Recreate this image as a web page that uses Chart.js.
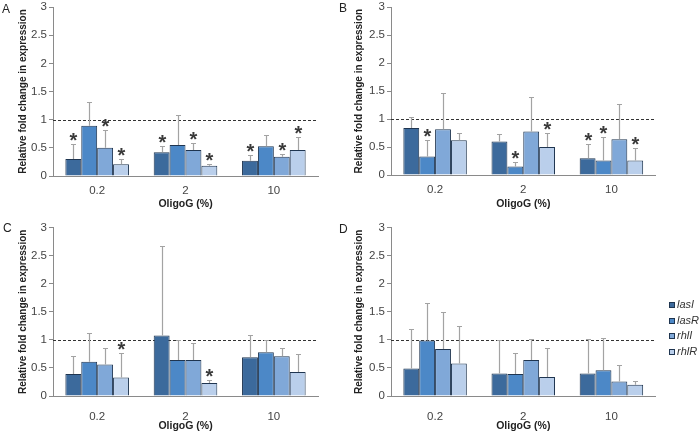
<!DOCTYPE html>
<html><head><meta charset="utf-8">
<script src="https://cdn.jsdelivr.net/npm/chart.js@4.4.0/dist/chart.umd.min.js"></script>
<style>
html,body{margin:0;padding:0;background:#fff;}
#wrap{position:relative;width:700px;height:431px;overflow:hidden;font-family:"Liberation Sans",Arial,sans-serif;}
.pane{position:absolute;}
.lbl{position:absolute;font-size:12px;line-height:12px;color:#222;}
#legend{position:absolute;left:669px;top:297px;}
.li{position:relative;height:15.6px;line-height:15.6px;font-style:italic;font-size:11px;color:#333;padding-left:8px;white-space:nowrap;}
.sw{position:absolute;left:0;top:5px;width:4px;height:4px;border:1px solid #1f3550;}
</style>
</head><body>
<div id="wrap">
  <canvas id="cA" class="pane" width="340" height="215" style="left:0;top:0"></canvas>
  <canvas id="cB" class="pane" width="360" height="215" style="left:340px;top:0"></canvas>
  <canvas id="cC" class="pane" width="340" height="216" style="left:0;top:215px"></canvas>
  <canvas id="cD" class="pane" width="360" height="216" style="left:340px;top:215px"></canvas>
  <div class="lbl" style="left:2px;top:2.5px">A</div>
  <div class="lbl" style="left:339px;top:1.5px">B</div>
  <div class="lbl" style="left:3px;top:221.5px">C</div>
  <div class="lbl" style="left:339px;top:222.5px">D</div>
  <div id="legend"></div>
</div>
<script>
// ---- data ----
const categories = ['0.2', '2', '10'];
const genes = ['lasI', 'lasR', 'rhlI', 'rhlR'];
const yTicks = [0, 0.5, 1, 1.5, 2, 2.5, 3];
const yTickLabels = ['0', '0.5', '1', '1.5', '2', '2.5', '3'];
const xTitle = 'OligoG (%)';
const yTitle = 'Relative fold change in expression';

// Panel A (rows = genes, cols = categories)
const valuesA = [[0.30, 0.42, 0.27], [0.89, 0.55, 0.53], [0.50, 0.46, 0.34], [0.21, 0.18, 0.46]];
const errorsA = [[0.27, 0.11, 0.10], [0.42, 0.54, 0.19], [0.31, 0.12, 0.05], [0.09, 0.03, 0.23]];
const starsA  = [[1, 1, 1], [0, 0, 0], [1, 1, 1], [1, 1, 1]];
// Panel B
const valuesB = [[0.84, 0.60, 0.30], [0.33, 0.15, 0.26], [0.82, 0.78, 0.64], [0.62, 0.50, 0.26]];
const errorsB = [[0.19, 0.14, 0.26], [0.29, 0.09, 0.42], [0.64, 0.62, 0.63], [0.13, 0.25, 0.22]];
const starsB  = [[0, 0, 1], [1, 1, 1], [0, 0, 0], [0, 1, 1]];
// Panel C
const valuesC = [[0.39, 1.08, 0.69], [0.61, 0.64, 0.78], [0.56, 0.64, 0.71], [0.33, 0.23, 0.43]];
const errorsC = [[0.32, 1.60, 0.40], [0.52, 0.35, 0.22], [0.30, 0.30, 0.15], [0.43, 0.06, 0.32]];
const starsC  = [[0, 0, 0], [0, 0, 0], [0, 0, 0], [1, 1, 0]];
// Panel D
const valuesD = [[0.49, 0.40, 0.40], [0.99, 0.39, 0.46], [0.84, 0.64, 0.26], [0.58, 0.34, 0.20]];
const errorsD = [[0.70, 0.59, 0.61], [0.66, 0.37, 0.57], [0.66, 0.38, 0.29], [0.67, 0.52, 0.07]];
const starsD  = [[0, 0, 0], [0, 0, 0], [0, 0, 0], [0, 0, 0]];

// ---- styles ----
const colors = ['#3c6a9c', '#4c88c7', '#80a8d8', '#bacfeb'];
const edge = '#1f3550';
const FONT = '"Liberation Sans", Arial, sans-serif';

const panelPlugin = {
  id: 'panelExtras',
  beforeDatasetsDraw(chart) {
    const {ctx, chartArea: a, scales: {y}} = chart;
    const py = Math.round(y.getPixelForValue(1)) + 0.5;
    ctx.save();
    ctx.strokeStyle = '#333';
    ctx.lineWidth = 1;
    ctx.setLineDash([3, 2]);
    ctx.beginPath(); ctx.moveTo(a.left, py); ctx.lineTo(a.right, py); ctx.stroke();
    ctx.restore();
  },
  afterDatasetsDraw(chart, args, opts) {
    const {ctx, scales: {y}} = chart;
    ctx.save();
    chart.data.datasets.forEach((ds, di) => {
      const meta = chart.getDatasetMeta(di);
      meta.data.forEach((bar, i) => {
        const v = ds.data[i], e = opts.errors[di][i];
        const x = Math.round(bar.x) + 0.5;
        const yb = y.getPixelForValue(v);
        const yt = Math.round(y.getPixelForValue(v + e)) + 0.5;
        ctx.strokeStyle = '#a3a3a3';
        ctx.lineWidth = 1.2;
        ctx.beginPath();
        ctx.moveTo(x, yb); ctx.lineTo(x, yt);
        ctx.moveTo(x - 2.5, yt); ctx.lineTo(x + 2.5, yt);
        ctx.stroke();
        if (opts.stars[di][i]) {
          ctx.fillStyle = '#3a3a3a';
          ctx.font = 'bold 20px ' + FONT;
          ctx.textAlign = 'center';
          ctx.textBaseline = 'alphabetic';
          ctx.fillText('*', x, yt - 8.5 + 0.55 * 20);
        }
      });
    });
    ctx.restore();
  }
};

function makeChart(id, values, errors, stars, g) {
  return new Chart(document.getElementById(id), {
    type: 'bar',
    data: {
      labels: categories,
      datasets: genes.map((name, k) => ({
        label: name,
        data: values[k],
        backgroundColor: colors[k],
        borderColor: edge,
        borderWidth: 1,
        categoryPercentage: 0.72,
        barPercentage: 1.0
      }))
    },
    options: {
      responsive: false,
      animation: false,
      devicePixelRatio: 1,
      layout: {padding: {left: 0, top: g.top, right: g.right, bottom: 0}},
      plugins: {
        legend: {display: false},
        tooltip: {enabled: false},
        panelExtras: {errors: errors, stars: stars}
      },
      scales: {
        x: {
          grid: {display: false},
          border: {display: true, color: '#8a8a8a', width: 1},
          ticks: {color: '#444', padding: g.xTickPad, font: {family: FONT, size: 11.5}},
          title: {display: true, text: xTitle, color: '#222', padding: {top: 0, bottom: g.xTitlePad},
                  font: {family: FONT, size: 10.5, weight: 'bold'}},
          afterFit(s) { s.height = g.xHeight; s.paddingLeft = 0; s.paddingRight = 0; }
        },
        y: {
          min: 0, max: 3,
          afterBuildTicks(s) { s.ticks = yTicks.map(v => ({value: v})); },
          grid: {display: true, drawOnChartArea: false, drawTicks: true, tickLength: 4, color: '#8a8a8a'},
          border: {display: true, color: '#8a8a8a', width: 1},
          ticks: {color: '#444', padding: 2, font: {family: FONT, size: 11.5},
                  callback: (v) => yTickLabels[yTicks.indexOf(v)]},
          title: {display: true, text: yTitle, color: '#222', padding: {top: g.yTitlePad, bottom: 0},
                  font: {family: FONT, size: 10, weight: 'bold'}},
          afterFit(s) { s.width = g.yWidth; s.paddingTop = 0; s.paddingBottom = 0; }
        }
      }
    },
    plugins: [panelPlugin]
  });
}

makeChart('cA', valuesA, errorsA, starsA, {top: 7, right: 22, yWidth: 53, xHeight: 39, xTickPad: 0, xTitlePad: 5, yTitlePad: 17});
makeChart('cB', valuesB, errorsB, starsB, {top: 7.3, right: 44.5, yWidth: 51, xHeight: 40, xTickPad: 0, xTitlePad: 5, yTitlePad: 13.5});
makeChart('cC', valuesC, errorsC, starsC, {top: 12.7, right: 22, yWidth: 53, xHeight: 35, xTickPad: 6, xTitlePad: -1, yTitlePad: 17});
makeChart('cD', valuesD, errorsD, starsD, {top: 12.7, right: 44.5, yWidth: 51, xHeight: 35, xTickPad: 6, xTitlePad: -1, yTitlePad: 13});

// legend (HTML, real text)
const lg = document.getElementById('legend');
genes.forEach((name, k) => {
  const row = document.createElement('div');
  row.className = 'li';
  const sw = document.createElement('span');
  sw.className = 'sw';
  sw.style.background = colors[k];
  row.appendChild(sw);
  row.appendChild(document.createTextNode(name));
  lg.appendChild(row);
});
</script>
</body></html>
